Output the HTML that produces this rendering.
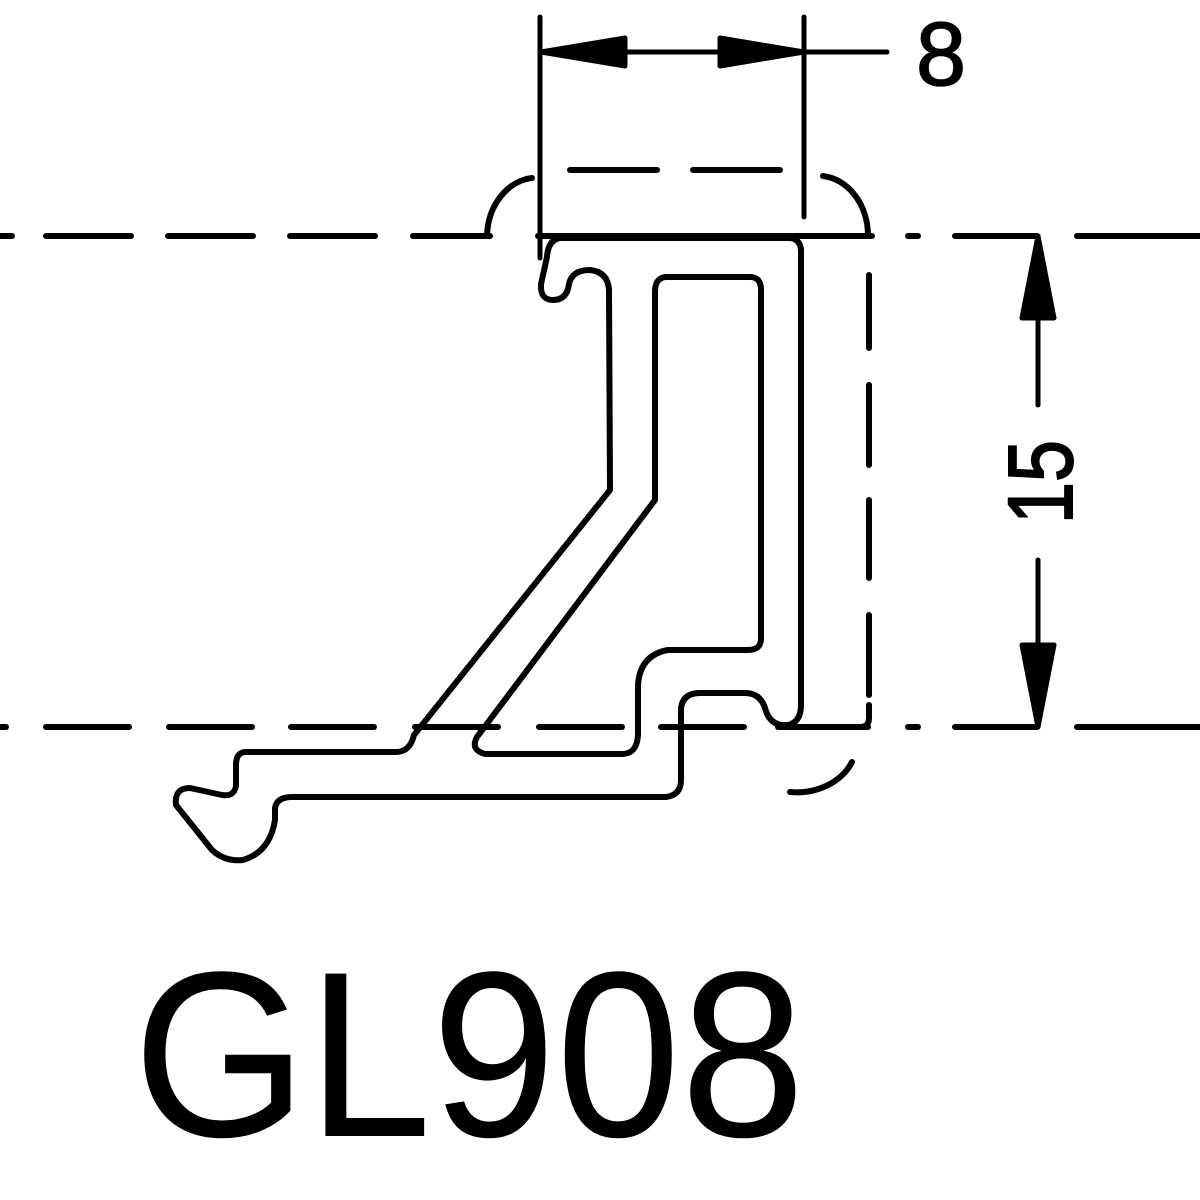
<!DOCTYPE html>
<html><head><meta charset="utf-8"><style>html,body{margin:0;padding:0;background:#fff}svg{display:block}</style></head>
<body>
<svg width="1200" height="1200" viewBox="0 0 1200 1200" xmlns="http://www.w3.org/2000/svg">
<rect width="1200" height="1200" fill="#fff"/>
<g fill="none" stroke="#000" stroke-linecap="round" stroke-linejoin="round">
  <g stroke-width="6">
    <path d="M0 236H12M46 236H131M168 236H253M290 236H375M413 236H490"/>
    <path d="M487 236A50 60 0 0 1 532 178"/>
    <path d="M538 236H872"/>
    <path d="M823 176A50 60 0 0 1 868 236"/>
    <path d="M908 236H918M955 236H1037M1077 236H1200"/>
  </g>
  <g stroke-width="6">
    <path d="M0 727H6M46 727H129M169 727H252M291 727H374M415 727H498M539 727H622M661 727H744M778 727H868"/>
    <path d="M908 727H918M955 727H1037M1077 727H1200"/>
    <path d="M790 792A60 50 0 0 0 852 762"/>
  </g>
  <g stroke-width="6">
    <path d="M570 170H657M693 170H780"/>
    <path d="M869 275V348M869 385V465M869 500V578M869 615V695M869 705V718Q869 727 860 727"/>
  </g>
  <g stroke-width="5">
    <path d="M540 17V258M804 17V217M541 52H887"/>
    <path d="M541 52L625 38L625 66Z M804 52L720 38L720 66Z" fill="#000"/>
  </g>
  <g stroke-width="5">
    <path d="M1038 236V405M1038 560V727"/>
    <path d="M1038 236L1022 318L1054 318Z M1038 727L1022 645L1054 645Z" fill="#000"/>
  </g>
  <path stroke-width="6" d="
    M560 238 Q548 240 547 257 L541 284 Q540 300 553 300 Q567 300 569 284 Q572 270 590 270 Q608 272 609 290 L610 490
    L414 735 Q410 752 396 752 L246 752 Q236 752 236 765 L236 786 Q234 797 222 795 L190 788 Q174 788 176 805 L212 850 Q225 862 243 860 Q270 852 275 820 L275 808 Q277 797 292 797 L666 797 Q681 795 681 780 L681 708 Q683 693 700 693 L745 693 Q760 693 765 708 Q770 727 788 725 Q801 722 801 705 L801 250 Q800 238 788 238 Z"/>
  <path stroke-width="6" d="
    M667 277 L750 277 Q761 277 761 290 L761 640 Q760 650 748 650 L668 650 Q640 655 638 685 L638 735 Q637 754 622 754 L485 754 Q470 750 477 737 L655 500 L655 292 Q655 277 667 277 Z"/>
</g>
<text x="916" y="85" font-family="Liberation Sans, sans-serif" font-size="90" fill="#000" stroke="#000" stroke-width="1.5">8</text>
<text transform="translate(1072,482) rotate(-90)" text-anchor="middle" font-family="Liberation Sans, sans-serif" font-size="92" textLength="84" lengthAdjust="spacingAndGlyphs" fill="#000" stroke="#000" stroke-width="2">15</text>
<text x="133" y="1136" font-family="Liberation Sans, sans-serif" font-size="236" textLength="672" lengthAdjust="spacingAndGlyphs" fill="#000">GL908</text>
</svg>
</body></html>
